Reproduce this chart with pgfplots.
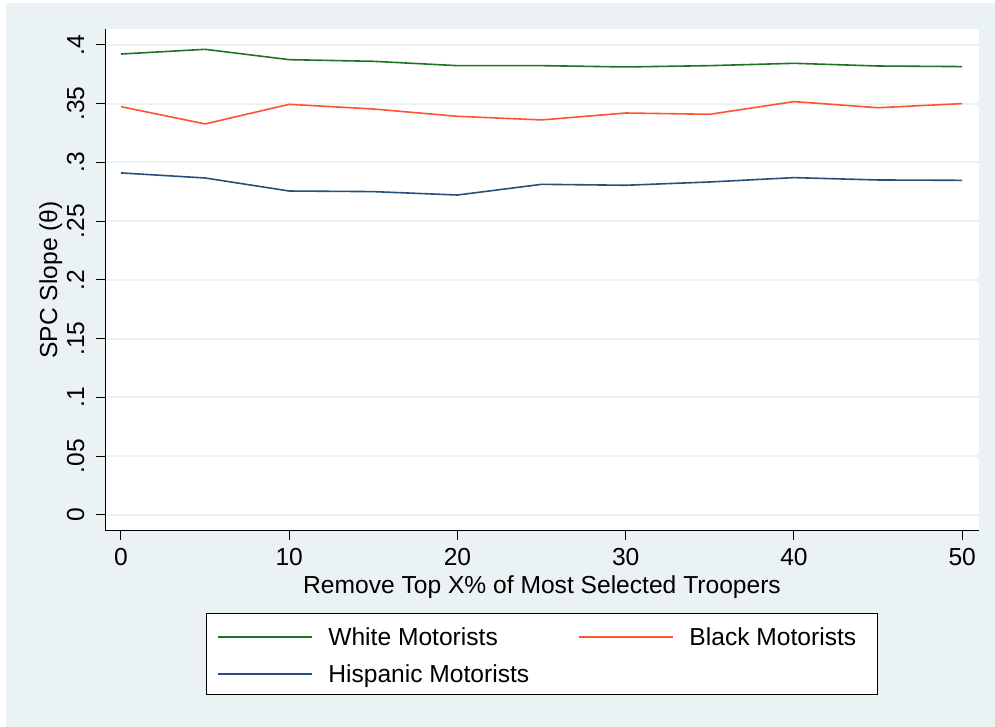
\documentclass[border=0pt]{standalone}
\usepackage{fontspec}
\setmainfont{Liberation Sans}
\usepackage{pgfplots}
\pgfplotsset{compat=1.18}

\definecolor{stbg}{RGB}{234,242,243}
\definecolor{cwhite}{RGB}{31,116,36}
\definecolor{cblack}{RGB}{255,84,50}
\definecolor{chisp}{RGB}{38,80,122}

\begin{document}
\fontsize{12.3}{14.8}\selectfont
\begin{tikzpicture}
% page and outer region (1px = 0.5pt)
\fill[white] (0,0) rectangle (497.5pt,363.5pt);
\fill[stbg] (3pt,0) rectangle (497.5pt,362pt);
\useasboundingbox (0,0) rectangle (497.5pt,363.5pt);
\begin{axis}[
    at={(52.5pt,98.15pt)}, anchor=south west,
    scale only axis,
    width=437pt, height=250.85pt,
    xmin=-0.95, xmax=51,
    ymin=-0.0134, ymax=0.4136,
    axis background/.style={fill=white},
    axis x line*=bottom, axis y line*=left,
    axis line style={black, line width=0.5pt, -},
    xtick={0,10,20,30,40,50},
    xticklabels={0,10,20,30,40,50},
    ytick={0,0.05,0.1,0.15,0.2,0.25,0.3,0.35,0.4},
    yticklabels={0,.05,.1,.15,.2,.25,.3,.35,.4},
    tick align=outside,
    major tick length=4.75pt,
    tick style={black, line width=0.5pt},
    ymajorgrids,
    grid style={stbg, line width=1pt},
    xticklabel style={anchor=north, inner sep=0pt, yshift=-3.7pt},
    % rotated labels: local y points left
    yticklabel style={rotate=90, anchor=base, inner sep=0pt, yshift=5.75pt},
    xlabel={Remove Top X\% of Most Selected Troopers},
    xlabel style={at={(axis description cs:0.5,-0.1254)}, anchor=base, inner sep=0pt},
    ylabel={SPC Slope (θ)},
    ylabel style={at={(axis description cs:-0.0549,0.5)}, anchor=base, inner sep=0pt},
    legend columns=2,
    legend cell align=left,
    legend image code/.code={\draw[#1] (0pt,-0.8pt) -- (47pt,-0.8pt);},
    legend style={
        at={(0.5,-0.1634)}, anchor=north,
        draw=black, line width=0.5pt, fill=white,
        inner xsep=5pt, inner ysep=3pt, row sep=1.95pt,
        nodes={inner sep=0pt, text height=13.4pt, text depth=2.95pt},
        /tikz/every odd column/.append style={column sep=8pt},
        /tikz/every even column/.append style={column sep=24.3pt}
    },
]

% White motorists
\addplot[cwhite, line width=0.8pt] coordinates {
    (0,0.3923) (5,0.3963) (10,0.3875) (15,0.3861) (20,0.3824) (25,0.3824)
    (30,0.3813) (35,0.3824) (40,0.3844) (45,0.3821) (50,0.3816)
};
\addlegendentry{White Motorists}

% Black motorists
\addplot[cblack, line width=0.8pt] coordinates {
    (0,0.3475) (5,0.3328) (10,0.3495) (15,0.3455) (20,0.3393) (25,0.3362)
    (30,0.3421) (35,0.3410) (40,0.3518) (45,0.3466) (50,0.3501)
};
\addlegendentry{Black Motorists\hspace*{5.5pt}}

% Hispanic motorists
\addplot[chisp, line width=0.8pt] coordinates {
    (0,0.2911) (5,0.2868) (10,0.2757) (15,0.2752) (20,0.2723) (25,0.2814)
    (30,0.2806) (35,0.2834) (40,0.2871) (45,0.2851) (50,0.2848)
};
\addlegendentry{Hispanic Motorists}

\end{axis}
\end{tikzpicture}
\end{document}
